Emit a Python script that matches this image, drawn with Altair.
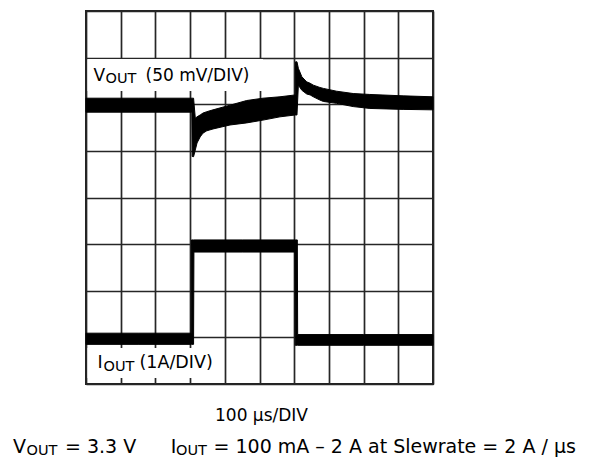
import altair as alt
import pandas as pd

# Horizontal: time in µs (100 µs/DIV, 10 divisions). Vertical: screen divisions (8).
# Each trace is a thick noisy band: upper edge (hi) and lower edge (lo).
V_t = [0, 150, 305, 306, 310, 315, 320, 329, 337, 348, 366, 415, 463, 510, 559,
       603, 604, 608, 612, 622, 636, 646, 655, 674, 684, 722, 770, 818, 914, 1000]
V_hi = [6.13, 6.13, 6.13, 6.13, 6.13, 5.70, 5.73, 5.77, 5.81, 5.84, 5.88, 5.98, 6.08, 6.13, 6.16,
        6.20, 6.91, 6.91, 6.77, 6.59, 6.48, 6.45, 6.41, 6.36, 6.34, 6.28, 6.23, 6.21, 6.18, 6.16]
V_lo = [5.83, 5.83, 5.83, 4.88, 4.875, 5.02, 5.17, 5.30, 5.38, 5.43, 5.47, 5.555, 5.60, 5.66, 5.73,
        5.77, 5.77, 5.77, 6.41, 6.30, 6.22, 6.20, 6.16, 6.09, 6.06, 6.02, 5.95, 5.91, 5.89, 5.88]

I_t = [0, 150, 303, 304, 310, 311, 450, 602, 603, 609, 610, 800, 1000]
I_hi = [1.09, 1.09, 1.09, 3.09, 3.09, 3.09, 3.09, 3.09, 3.09, 3.09, 1.06, 1.06, 1.06]
I_lo = [0.85, 0.85, 0.85, 0.85, 0.85, 2.83, 2.83, 2.83, 0.83, 0.83, 0.83, 0.83, 0.83]

X_TICKS = list(range(0, 1001, 100))
Y_TICKS = list(range(0, 9))

FONT = "DejaVu Sans"
GRID = "#262626"

v_df = pd.DataFrame({"t": V_t, "hi": V_hi, "lo": V_lo})
i_df = pd.DataFrame({"t": I_t, "hi": I_hi, "lo": I_lo})
one = pd.DataFrame({"k": [0]})

xenc = alt.X("t:Q", scale=alt.Scale(domain=[0, 1000], nice=False, zero=False),
             axis=alt.Axis(values=X_TICKS, grid=True, labels=False, ticks=False, domain=False,
                           title=None, gridColor=GRID, gridWidth=1.7, gridOpacity=1))
yenc = alt.Y("hi:Q", scale=alt.Scale(domain=[0, 8], nice=False, zero=False),
             axis=alt.Axis(values=Y_TICKS, grid=True, labels=False, ticks=False, domain=False,
                           title=None, gridColor=GRID, gridWidth=1.7, gridOpacity=1))


def band(df):
    return alt.Chart(df).mark_area(color="black", stroke="black", strokeWidth=1,
                                   interpolate="linear").encode(
        x=xenc, y=yenc, y2="lo:Q")


def box(x1, x2, y1, y2):
    return alt.Chart(one).mark_rect(color="white").encode(
        x=alt.value(x1), x2=alt.value(x2), y=alt.value(y1), y2=alt.value(y2))


def txt(s, x, y, size):
    return alt.Chart(one).mark_text(text=s, align="left", baseline="alphabetic", font=FONT,
                                    fontSize=size, color="black").encode(
        x=alt.value(x), y=alt.value(y))


layers = [
    box(1.5, 177, 48, 80),
    box(1.5, 132, 337, 367),
    band(v_df),
    band(i_df),
    # V_OUT (50 mV/DIV)
    txt("V", 7.5, 69.7, 17),
    txt("OUT", 19.5, 72, 14.5),
    txt("(50 mV/DIV)", 59.5, 69.7, 17),
    # I_OUT (1A/DIV)
    txt("I", 11.5, 357.3, 17.5),
    txt("OUT", 17.5, 360, 14.5),
    txt("(1A/DIV)", 53.5, 357.3, 17.5),
    # bottom captions
    alt.Chart(one).mark_text(text="100 µs/DIV", align="center", baseline="alphabetic", font=FONT,
                             fontSize=17, color="black").encode(x=alt.value(175.5), y=alt.value(409.7)),
    txt("V", -73, 441.7, 19),
    txt("OUT", -59.5, 443.7, 14.5),
    txt("= 3.3 V", -21, 441.7, 19),
    txt("I", 84.8, 441.7, 19),
    txt("OUT", 90, 443.7, 14.5),
    txt("= 100 mA \u2013 2 A at Slewrate = 2 A / µs", 127.5, 441.7, 19),
]

chart = alt.layer(*layers).properties(
    width=347, height=373,
    autosize=alt.AutoSizeParams(type="none"),
    padding={"left": 78, "top": 3, "right": 150, "bottom": 73},
).configure_view(stroke="#222222", strokeWidth=2)

chart.save("out.html", embed_options={"renderer": "svg", "actions": False})
